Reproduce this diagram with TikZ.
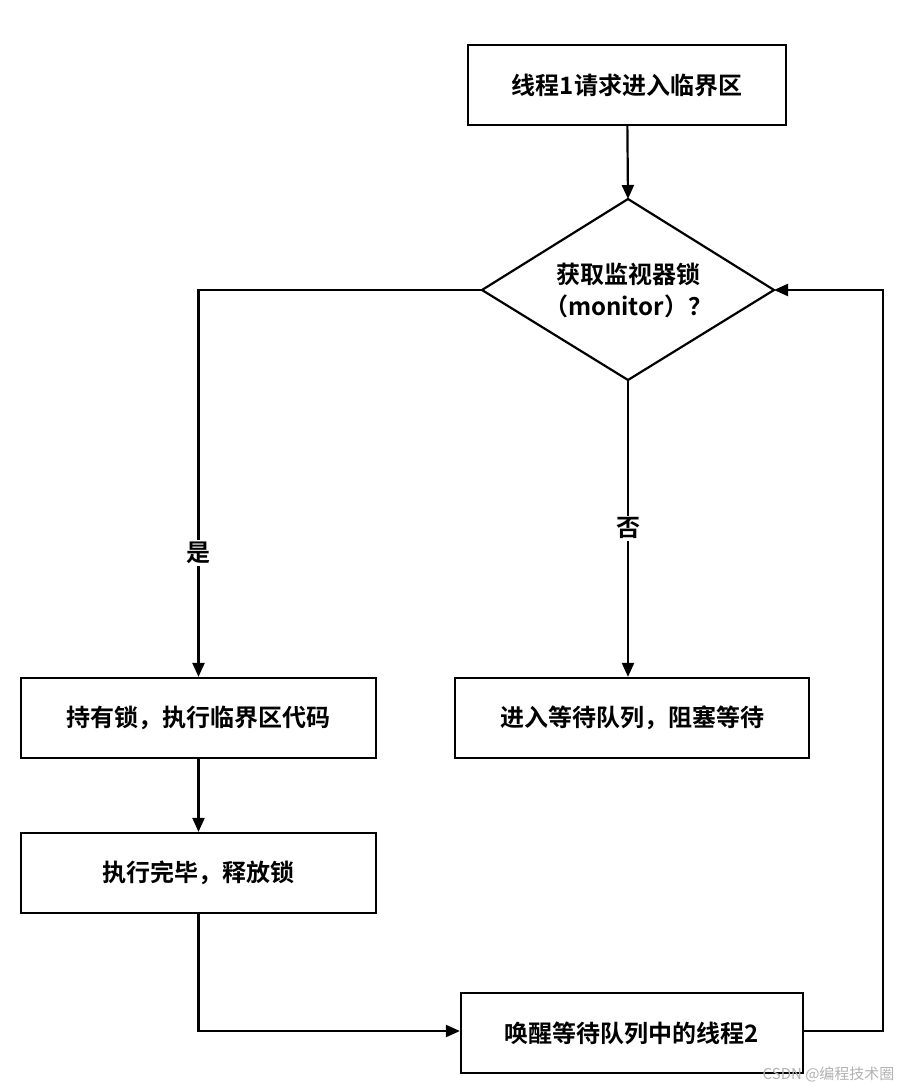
\documentclass[tikz,border=0pt]{standalone}
\usepackage{fontspec}
\setmainfont{Noto Sans CJK SC}[BoldFont={* Bold}]
\usetikzlibrary{shapes.geometric,arrows.meta}
\begin{document}
\begin{tikzpicture}[x=1pt,y=-1pt,
  box/.style={draw,line width=2.2pt,minimum height=80pt,inner sep=0pt,font=\fontsize{24}{28}\selectfont\bfseries},
  arr/.style={draw,line width=2.2pt,-{Triangle[length=14pt,width=12pt]}},
  lab/.style={fill=white,inner sep=2pt,font=\fontsize{24}{28}\selectfont\bfseries}]
\useasboundingbox (0,0) rectangle (900,1089);
\fill[white] (0,0) rectangle (900,1089);
\node[box,minimum width=318pt] (start) at (627,85) {线程1请求进入临界区};
\coordinate (dN) at (628,199);
\coordinate (dS) at (628,380);
\coordinate (dW) at (482,290);
\coordinate (dE) at (774,290);
\draw[line width=2.2pt,line join=miter] (dN) -- (dE) -- (dS) -- (dW) -- cycle;
\node[align=center,inner sep=0pt,font=\fontsize{24}{32}\selectfont\bfseries] (d) at (628,290) {获取监视器锁\\（monitor）？};
\node[box,minimum width=355pt] (hold) at (198.5,718) {持有锁，执行临界区代码};
\node[box,minimum width=354pt] (wait) at (632,718) {进入等待队列，阻塞等待};
\node[box,minimum width=355pt] (done) at (198.5,873) {执行完毕，释放锁};
\node[box,minimum width=342pt] (wake) at (632,1033) {唤醒等待队列中的线程2};
\coordinate (c1) at (198.5,290);
\coordinate (c2) at (198.5,1031);
\coordinate (c3) at (883,1031);
\coordinate (c4) at (883,290);
\draw[arr] (start) -- (dN);
\draw[arr] (dW) -- (c1) -- node[lab,pos=0.68]{是} (hold.north);
\draw[arr] (dS) -- node[lab,pos=0.5]{否} (dS |- wait.north);
\draw[arr] (hold) -- (done);
\draw[arr] (done.south) -- (c2) -- (wake.west |- c2);
\draw[arr] (wake.east |- c3) -- (c3) -- (c4) -- (dE);
\node[text=gray!60,font=\fontsize{15}{17}\selectfont,anchor=south east] (wm) at (898,1086) {CSDN @编程技术圈};
\end{tikzpicture}
\end{document}
